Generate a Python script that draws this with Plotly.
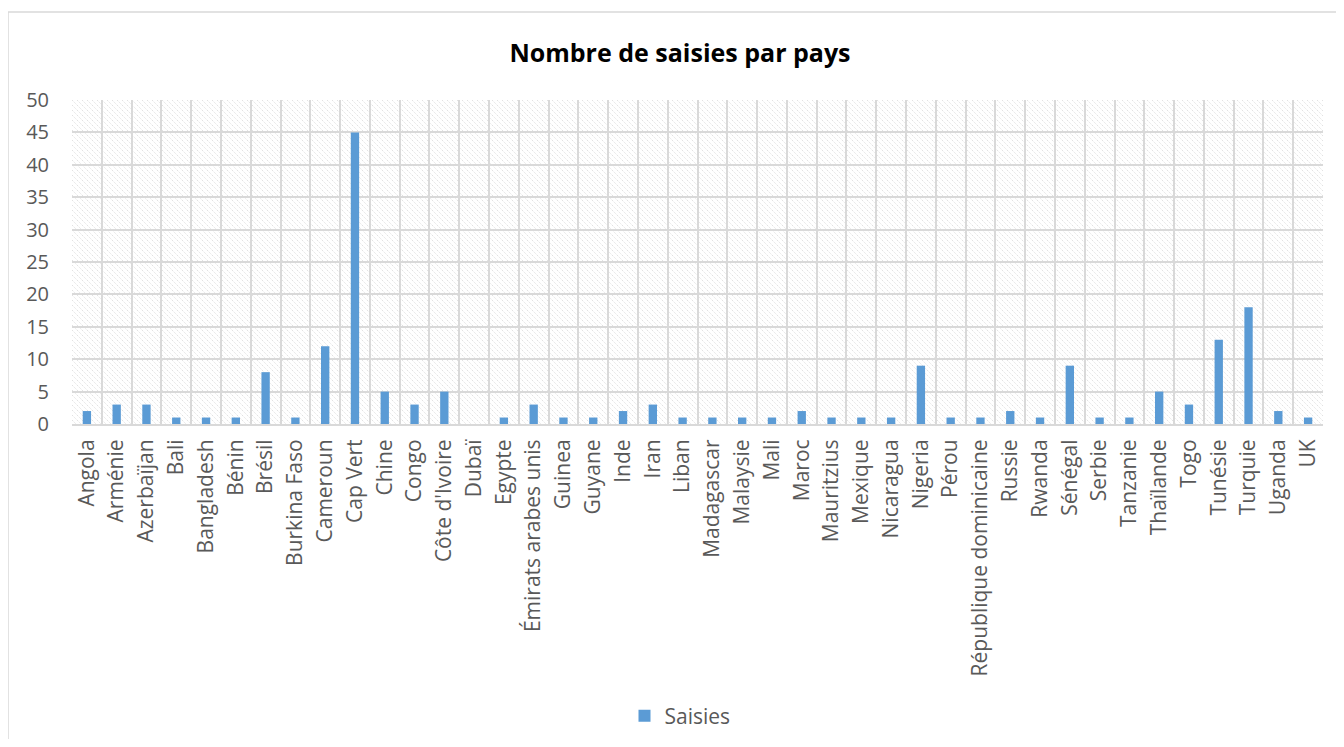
import base64
import plotly.graph_objects as go

pays = ["Angola", "Arménie", "Azerbaïjan", "Bali", "Bangladesh", "Bénin", "Brésil",
        "Burkina Faso", "Cameroun", "Cap Vert", "Chine", "Congo", "Côte d'Ivoire",
        "Dubaï", "Egypte", "Émirats arabes unis", "Guinea", "Guyane", "Inde", "Iran",
        "Liban", "Madagascar", "Malaysie", "Mali", "Maroc", "Mauritzius", "Mexique",
        "Nicaragua", "Nigeria", "Pérou", "République dominicaine", "Russie", "Rwanda",
        "Sénégal", "Serbie", "Tanzanie", "Thaïlande", "Togo", "Tunésie", "Turquie",
        "Uganda", "UK"]
saisies = [2, 3, 3, 1, 1, 1, 8, 1, 12, 45, 5, 3, 5, 0, 1, 3, 1, 1, 2, 3,
           1, 1, 1, 1, 2, 1, 1, 1, 9, 1, 1, 2, 1, 9, 1, 1, 5, 3, 13, 18, 2, 1]
y_ticks = list(range(0, 51, 5))

# page has an 8px body margin; figure coordinates are page coords - 8
W, H = 1328, 731
ML, MT = 64, 92
PW, PH = 1251, 324
MR = W - ML - PW
MB = H - MT - PH

# hatched background for plot area
svg = (
    f'<svg xmlns="http://www.w3.org/2000/svg" width="{PW}" height="{PH}" '
    f'viewBox="0 0 {PW} {PH}" preserveAspectRatio="none">'
    '<defs><pattern id="p" width="5" height="5" patternUnits="userSpaceOnUse">'
    '<path d="M-1,4 L1,6 M0,0 L5,5 M4,-1 L6,1" stroke="#e2e2e2" stroke-width="1" '
    'stroke-dasharray="1.4,1"/>'
    '</pattern></defs>'
    f'<rect width="{PW}" height="{PH}" fill="url(#p)"/></svg>'
)
src = "data:image/svg+xml;base64," + base64.b64encode(svg.encode()).decode()

fig = go.Figure()
fig.add_trace(go.Bar(
    x=pays, y=saisies, name="Saisies",
    marker=dict(color="#5B9BD5", line=dict(width=0)),
    showlegend=True,
))

font_family = "Open Sans, Lato, DejaVu Sans, sans-serif"
grid = "#d9d9d9"

fig.update_layout(
    width=W, height=H,
    margin=dict(l=ML, r=MR, t=MT, b=MB, autoexpand=False),
    paper_bgcolor="white",
    plot_bgcolor="rgba(0,0,0,0)",
    bargap=0.72,
    title=dict(
        text="<b>Nombre de saisies par pays</b>",
        x=672 / W, xref="container", xanchor="center",
        y=1 - 45 / H, yref="container", yanchor="middle",
        font=dict(family=font_family, size=25, color="#000000"),
    ),
    font=dict(family=font_family, color="#595959"),
    showlegend=True,
    legend=dict(
        orientation="h", x=(672 - ML) / PW, xanchor="center",
        y=-(708 - (MT + PH)) / PH, yanchor="middle",
        font=dict(size=21, color="#595959"),
        bgcolor="rgba(0,0,0,0)",
        itemwidth=30,
    ),
    images=[dict(
        source=src, xref="paper", yref="paper", x=0, y=1,
        sizex=1, sizey=1, xanchor="left", yanchor="top",
        sizing="stretch", layer="below",
    )],
    shapes=[dict(
        type="rect", xref="paper", yref="paper",
        x0=(0 - ML) / PW, x1=1.2, y0=-1.5, y1=(MT + PH - 4) / PH,
        line=dict(color="#d9d9d9", width=1.5), fillcolor="rgba(0,0,0,0)",
        layer="below",
    )],
)

fig.update_xaxes(
    type="category",
    tickson="boundaries",
    showgrid=True, gridcolor=grid, gridwidth=2,
    showline=True, linecolor=grid, linewidth=2,
    ticks="", tickangle=-90,
    tickfont=dict(size=21, color="#595959"),
    ticklabelstandoff=5,
    range=[-0.5, len(pays) - 0.5],
    fixedrange=True,
)
fig.update_yaxes(
    range=[0, 50], tickvals=y_ticks,
    showgrid=True, gridcolor=grid, gridwidth=2,
    zeroline=False, showline=False,
    ticks="", tickfont=dict(size=20, color="#595959"),
    ticklabelstandoff=22,
    fixedrange=True,
)

fig.write_html("out.html")
